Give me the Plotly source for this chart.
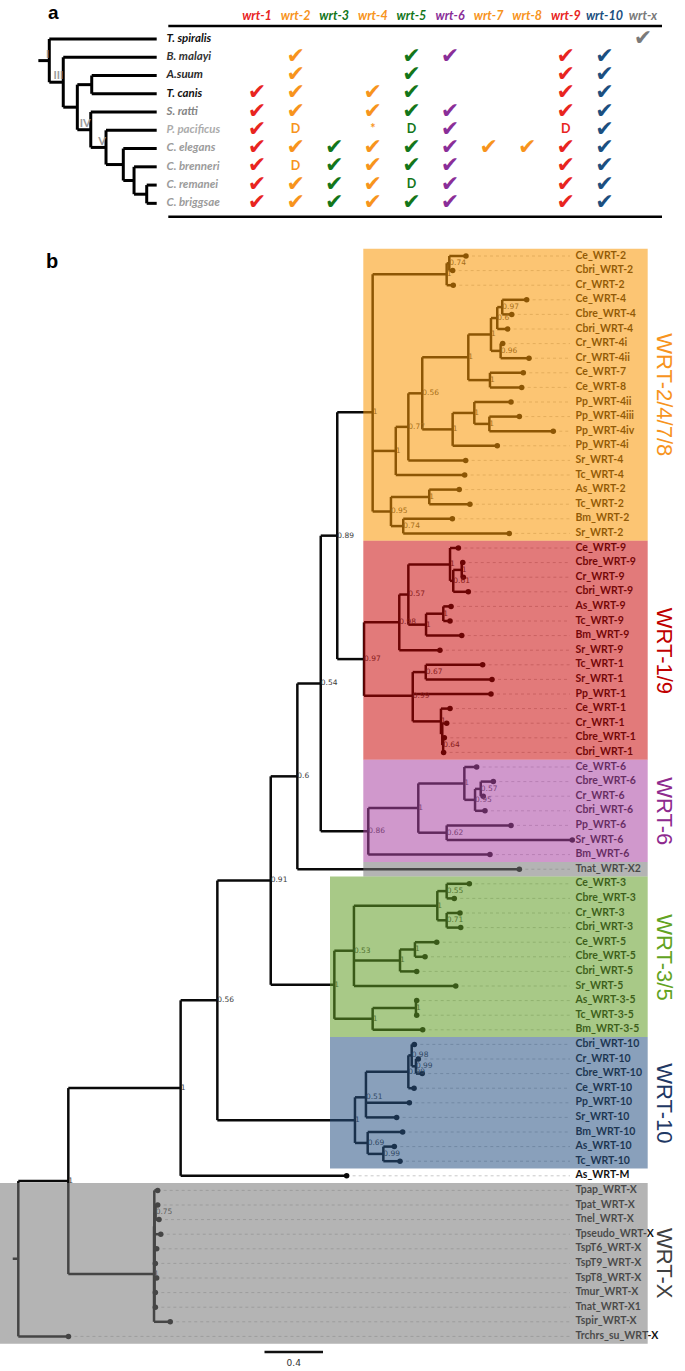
import plotly.graph_objects as go

W, H = 685, 1371

# ------------------------------------------------------------------ panel a data
SPECIES_TREE = ("(T. spiralis:1,(B. malayi:1,((A.suum:1,T. canis:1):0.395,(S. ratti:1,(P. pacificus:1,"
                "(C. elegans:1,(C. brenneri:1,(C. remanei:1,C. briggsae:1):0.907):0.789):0.689)V:0.528)IV:0.386)"
                ":0.261)III:0.130)I:0")
SPECIES_COLORS = ["#111111", "#333333", "#2a2a2a", "#111111", "#858585",
                  "#acacac", "#9b9b9b", "#9b9b9b", "#9b9b9b", "#9b9b9b"]
GENES = ["wrt-1", "wrt-2", "wrt-3", "wrt-4", "wrt-5", "wrt-6", "wrt-7", "wrt-8", "wrt-9", "wrt-10", "wrt-x"]
GENE_COLORS = ["#e8251f", "#f7941d", "#13761a", "#f7941d", "#13761a", "#8a2e98",
               "#f7941d", "#f7941d", "#e8251f", "#1b4f80", "#7a7a7a"]
# per gene, per species (T. spiralis ... C. briggsae): "v" present, "D", "*", "" absent
WRT_1 = ["", "", "", "v", "v", "v", "v", "v", "v", "v"]
WRT_2 = ["", "v", "v", "v", "v", "D", "v", "D", "v", "v"]
WRT_3 = ["", "", "", "", "", "", "v", "v", "v", "v"]
WRT_4 = ["", "", "", "v", "v", "*", "v", "v", "v", "v"]
WRT_5 = ["", "v", "v", "v", "v", "D", "v", "v", "D", "v"]
WRT_6 = ["", "v", "", "", "v", "v", "v", "v", "v", "v"]
WRT_7 = ["", "", "", "", "", "", "v", "", "", ""]
WRT_8 = ["", "", "", "", "", "", "v", "", "", ""]
WRT_9 = ["", "v", "v", "v", "v", "D", "v", "v", "v", "v"]
WRT_10 = ["", "v", "v", "v", "v", "v", "v", "v", "v", "v"]
WRT_X = ["v", "", "", "", "", "", "", "", "", ""]
PRESENCE = [WRT_1, WRT_2, WRT_3, WRT_4, WRT_5, WRT_6, WRT_7, WRT_8, WRT_9, WRT_10, WRT_X]

# ------------------------------------------------------------------ panel b data
# Newick; number after ':' = distance from the root (substitutions/site); node labels = support
CLADE_WRT_2478 = (
    "(((Ce_WRT-2:3.061,Cbri_WRT-2:2.970)0.74:2.947,Cr_WRT-2:2.974)1:2.929,"
    "(((((((Ce_WRT-4:3.476,Cbre_WRT-4:3.374)0.97:3.309,Cbri_WRT-4:3.346)0.6:3.275,"
    "(Cr_WRT-4i:3.312,Cr_WRT-4ii:3.492)0.96:3.298)1:3.232,"
    "(Ce_WRT-7:3.453,Ce_WRT-8:3.442)1:3.225)1:3.077,"
    "((Pp_WRT-4ii:3.369,(Pp_WRT-4iii:3.426,Pp_WRT-4iv:3.658)1:3.221)1:3.118,Pp_WRT-4i:3.275)1:2.970)0.56:2.762,"
    "Sr_WRT-4:3.059)0.77:2.667,Tc_WRT-4:3.052)1:2.581,"
    "((As_WRT-2:3.015,Tc_WRT-2:3.088)1:2.810,(Bm_WRT-2:2.968,Sr_WRT-2:3.357)0.74:2.632)0.95:2.548)1:2.423")
CLADE_WRT_19 = (
    "((((Ce_WRT-9:3.009,((Cbre_WRT-9:3.039,Cr_WRT-9:3.043)1:3.032,Cbri_WRT-9:3.077)0.61:2.974)1:2.952,"
    "((As_WRT-9:2.959,Tc_WRT-9:2.952)1:2.906,Bm_WRT-9:3.032)1:2.788)0.57:2.667,Sr_WRT-9:2.883)0.98:2.605,"
    "((Tc_WRT-1:3.175,Sr_WRT-1:3.239)0.67:2.786,Pp_WRT-1:3.232,"
    "(Ce_WRT-1:2.952,(Cr_WRT-1:2.929,(Cbre_WRT-1:2.913,Cbri_WRT-1:2.908)0.64:2.905):2.899)1:2.890)0.99:2.697)0.97:2.364")
CLADE_WRT_6 = (
    "(((Ce_WRT-6:3.134,((Cbre_WRT-6:3.248,Cr_WRT-6:3.179)0.57:3.162,Cbri_WRT-6:3.191)0.95:3.123)1:3.050,"
    "(Pp_WRT-6:3.369,Sr_WRT-6:3.788)0.62:2.929)1:2.735,Bm_WRT-6:3.225)0.86:2.393")
CLADE_WRT_35 = (
    "((((Ce_WRT-3:3.084,Cbre_WRT-3:2.981)0.55:2.929,(Cr_WRT-3:3.020,Cbri_WRT-3:3.025)0.71:2.929)1:2.865,"
    "((Ce_WRT-5:2.861,Cbre_WRT-5:2.781)1:2.712,Cbri_WRT-5:2.724)1:2.610,Sr_WRT-5:2.991)0.53:2.295,"
    "((As_WRT-3-5:2.724,Tc_WRT-3-5:2.724)1:2.719,Bm_WRT-3-5:2.765)1:2.423)1:2.161")
CLADE_WRT_10 = (
    "((((Cbri_WRT-10:2.708,(Cr_WRT-10:2.735,Cbre_WRT-10:2.762)0.99:2.719)0.98:2.690,Ce_WRT-10:2.706)0.99:2.667,"
    "Pp_WRT-10:2.674,Sr_WRT-10:2.587)0.51:2.377,"
    "(Bm_WRT-10:2.628,(As_WRT-10:2.571,Tc_WRT-10:2.610)0.99:2.496)0.69:2.389)1:2.302")
CLADE_WRT_X = (
    "((Tpap_WRT-X:0.953,((Tpat_WRT-X:0.953,Tnel_WRT-X:0.962)0.75:0.939,Tpseudo_WRT-X:0.974,TspT6_WRT-X:0.946,"
    "TspT9_WRT-X:0.937,TspT8_WRT-X:0.946,Tmur_WRT-X:0.937,Tnat_WRT-X1:0.937):0.932):0.930,Tspir_WRT-X:1.039)1:0.928")
BACKBONE = ("((((((((@A,@B)0.89:2.181,@C)0.54:2.068,Tnat_WRT-X2:3.426)0.6:1.908,@D)0.91:1.726,@E)0.56:1.361,"
            "As_WRT-M:2.245)1:1.110,@F)1:0.342,Trchrs_su_WRT-X:0.343):0")
GENE_TREE = (BACKBONE.replace("@A", CLADE_WRT_2478).replace("@B", CLADE_WRT_19)
             .replace("@C", CLADE_WRT_6).replace("@D", CLADE_WRT_35)
             .replace("@E", CLADE_WRT_10).replace("@F", CLADE_WRT_X))

# highlighted groups: name, first leaf, last leaf, label colour, overlay colour, left edge (px)
GROUPS = [
    ("WRT-2/4/7/8", "Ce_WRT-2", "Sr_WRT-2", "#f7941d", "rgba(250,150,0,0.55)", 363.3),
    ("WRT-1/9", "Ce_WRT-9", "Cbri_WRT-1", "#c00000", "rgba(200,0,0,0.52)", 363.3),
    ("WRT-6", "Ce_WRT-6", "Bm_WRT-6", "#8e2a8e", "rgba(170,68,162,0.55)", 363.3),
    ("", "Tnat_WRT-X2", "Tnat_WRT-X2", "#404040", "rgba(119,119,119,0.55)", 363.3),
    ("WRT-3/5", "Ce_WRT-3", "Bm_WRT-3-5", "#62a322", "rgba(97,157,37,0.55)", 330.0),
    ("WRT-10", "Cbri_WRT-10", "Tc_WRT-10", "#1f3864", "rgba(40,82,131,0.55)", 330.0),
    ("WRT-X", "Tpap_WRT-X", "Trchrs_su_WRT-X", "#404040", "rgba(119,119,119,0.55)", 0.0),
]
SCALE_BAR = 0.4


# ------------------------------------------------------------------ helpers
def parse_newick(s):
    pos = 0

    def node():
        nonlocal pos
        n = {"children": [], "depth": 0.0}
        if s[pos] == "(":
            pos += 1
            while True:
                n["children"].append(node())
                ch = s[pos]
                pos += 1
                if ch == ")":
                    break
        start = pos
        while pos < len(s) and s[pos] not in ":,()":
            pos += 1
        n["label"] = s[start:pos]
        if pos < len(s) and s[pos] == ":":
            pos += 1
            start = pos
            while pos < len(s) and s[pos] not in ",()":
                pos += 1
            n["depth"] = float(s[start:pos])
        return n

    return node()


def place(root):
    leaves, internals = [], []

    def walk(n):
        if not n["children"]:
            n["y"] = float(len(leaves))
            leaves.append(n)
        else:
            for c in n["children"]:
                walk(c)
            n["y"] = sum(c["y"] for c in n["children"]) / len(n["children"])
            internals.append(n)

    walk(root)
    return leaves, internals


def branch_xy(internals):
    xs, ys = [], []
    for n in internals:
        cy = [c["y"] for c in n["children"]]
        xs += [n["depth"], n["depth"], None]
        ys += [min(cy), max(cy), None]
        for c in n["children"]:
            xs += [n["depth"], c["depth"], None]
            ys += [c["y"], c["y"], None]
    return xs, ys


# ------------------------------------------------------------------ geometry (pixel mapping of axes)
B_ROOT_PX, B_UNIT_PX = 18.3, 146.25          # panel b x: distance -> px
B_ROW0_PX, B_ROW_PX = 256.0, 14.6            # panel b y: leaf index -> px
A_COL0_PX, A_COL_PX = 257.0, 38.6            # panel a table columns
A_ROW0_PX, A_ROW_PX = 39.0, 18.26            # panel a rows
A_T0_PX, A_T_PX = 49.3, 107.4                # panel a cladogram depth

bx = lambda px: (px - B_ROOT_PX) / B_UNIT_PX
by = lambda px: (px - B_ROW0_PX) / B_ROW_PX
ax_ = lambda px: (px - A_COL0_PX) / A_COL_PX
ay = lambda px: (px - A_ROW0_PX) / A_ROW_PX
tx = lambda px: (px - A_T0_PX) / A_T_PX

fig = go.Figure()

# ================================================================== panel b
groot = parse_newick(GENE_TREE)
gleaves, ginternals = place(groot)
row_of = {l["label"]: l["y"] for l in gleaves}

guide_end = bx(570)
gx, gy = [], []
for l in gleaves:
    if l["depth"] < guide_end:
        gx += [l["depth"], guide_end, None]
        gy += [l["y"], l["y"], None]
fig.add_trace(go.Scatter(x=gx, y=gy, mode="lines", line=dict(color="#c4c4c4", width=0.9, dash="dot"),
                         hoverinfo="skip", xaxis="x", yaxis="y"))

bxs, bys = branch_xy(ginternals)
bxs = [-0.038, 0.0, None] + bxs
bys = [groot["y"], groot["y"], None] + bys
fig.add_trace(go.Scatter(x=bxs, y=bys, mode="lines", line=dict(color="#0a0a0a", width=2.5),
                         hoverinfo="skip", xaxis="x", yaxis="y"))
fig.add_trace(go.Scatter(x=[l["depth"] for l in gleaves], y=[l["y"] for l in gleaves], mode="markers",
                         marker=dict(color="#0a0a0a", size=5.5), hoverinfo="skip", xaxis="x", yaxis="y"))
fig.add_trace(go.Scatter(x=[bx(575.5)] * len(gleaves), y=[l["y"] for l in gleaves],
                         text=[l["label"] for l in gleaves], mode="text", textposition="middle right",
                         textfont=dict(family="Liberation Sans Narrow, Lato, sans-serif", size=10.5,
                                       color="#111111", weight="bold"),
                         hoverinfo="skip", xaxis="x", yaxis="y"))
sup = [n for n in ginternals if n["label"]]
fig.add_trace(go.Scatter(x=[n["depth"] for n in sup], y=[n["y"] for n in sup], text=[n["label"] for n in sup],
                         mode="text", textposition="middle right",
                         textfont=dict(family="DejaVu Sans", size=7.5, color="#3c3c3c"),
                         hoverinfo="skip", xaxis="x", yaxis="y"))
# scale bar
sb0 = bx(264.5)
fig.add_trace(go.Scatter(x=[sb0, sb0 + SCALE_BAR], y=[by(1352), by(1352)], mode="lines",
                         line=dict(color="#111111", width=2.5), hoverinfo="skip", xaxis="x", yaxis="y"))
fig.add_trace(go.Scatter(x=[sb0 + SCALE_BAR / 2], y=[by(1364)], text=[str(SCALE_BAR)], mode="text",
                         textfont=dict(family="DejaVu Sans", size=9, color="#333333"),
                         hoverinfo="skip", xaxis="x", yaxis="y"))

shapes, annotations = [], []
for name, first, last, lcol, fill, x0 in GROUPS:
    r0, r1 = row_of[first] - 0.5, row_of[last] + 0.5
    shapes.append(dict(type="rect", xref="paper", yref="y", x0=x0 / W, x1=647.7 / W, y0=r0, y1=r1,
                       fillcolor=fill, line=dict(width=0), layer="above"))
    if name:
        annotations.append(dict(text=name, xref="paper", yref="y", x=664.5 / W, y=(r0 + r1) / 2,
                                showarrow=False, textangle=90, xanchor="center", yanchor="middle",
                                font=dict(family="Liberation Sans, Arial, sans-serif", size=22, color=lcol)))

# ================================================================== panel a
sroot = parse_newick(SPECIES_TREE)
sleaves, sinternals = place(sroot)
sxs, sys_ = branch_xy(sinternals)
sxs = [-0.102, 0.0, None] + sxs
sys_ = [sroot["y"], sroot["y"], None] + sys_
fig.add_trace(go.Scatter(x=sxs, y=sys_, mode="lines", line=dict(color="#000000", width=3),
                         hoverinfo="skip", xaxis="x3", yaxis="y3"))
fig.add_trace(go.Scatter(x=[tx(166.5)] * len(sleaves), y=[l["y"] for l in sleaves],
                         text=[l["label"] for l in sleaves], mode="text", textposition="middle right",
                         textfont=dict(family="Lato, sans-serif", size=11.5, color=SPECIES_COLORS,
                                       weight="bold", style="italic"),
                         hoverinfo="skip", xaxis="x3", yaxis="y3"))
roman = [n for n in sinternals if n["label"]]
fig.add_trace(go.Scatter(x=[n["depth"] for n in roman], y=[n["y"] for n in roman],
                         text=[n["label"] for n in roman], mode="text", textposition="top left",
                         textfont=dict(family="Lato, sans-serif", size=11, color="#9a9a9a", weight="bold"),
                         hoverinfo="skip", xaxis="x3", yaxis="y3"))

# header
fig.add_trace(go.Scatter(x=list(range(len(GENES))), y=[ay(17.3)] * len(GENES), text=GENES, mode="text",
                         textfont=dict(family="Lato, sans-serif", size=12.5, color=GENE_COLORS,
                                       weight="bold", style="italic"),
                         hoverinfo="skip", xaxis="x2", yaxis="y2"))
cx, cy, cc, lx, ly, lt, lc = [], [], [], [], [], [], []
for gi, col in enumerate(PRESENCE):
    for si, v in enumerate(col):
        if v == "v":
            cx.append(gi); cy.append(si); cc.append(GENE_COLORS[gi])
        elif v:
            lx.append(gi); ly.append(si); lt.append(v); lc.append(GENE_COLORS[gi])
fig.add_trace(go.Scatter(x=cx, y=cy, text=["\u2714"] * len(cx), mode="text",
                         textfont=dict(family="DejaVu Sans", size=22, color=cc),
                         hoverinfo="skip", xaxis="x2", yaxis="y2"))
fig.add_trace(go.Scatter(x=lx, y=ly, text=lt, mode="text",
                         textfont=dict(family="Lato, sans-serif", size=12.5, color=lc, weight="bold"),
                         hoverinfo="skip", xaxis="x2", yaxis="y2"))
for ypx in (26.0, 216.7):
    shapes.append(dict(type="line", xref="paper", yref="y2", x0=168.3 / W, x1=662 / W, y0=ay(ypx), y1=ay(ypx),
                       line=dict(color="#000000", width=2.5)))

annotations.append(dict(text="<b>a</b>", xref="paper", yref="paper", x=53.5 / W, y=1.0, showarrow=False,
                        xanchor="center", yanchor="top",
                        font=dict(family="Liberation Sans, Arial, sans-serif", size=19, color="#000000")))
annotations.append(dict(text="<b>b</b>", xref="paper", yref="paper", x=52 / W, y=1 - 261 / H, showarrow=False,
                        xanchor="center", yanchor="middle",
                        font=dict(family="Liberation Sans, Arial, sans-serif", size=20, color="#000000")))

noaxis = dict(visible=False, showgrid=False, zeroline=False, domain=[0, 1], fixedrange=True)
fig.update_layout(
    width=W, height=H, margin=dict(l=0, r=0, t=0, b=0), showlegend=False,
    paper_bgcolor="white", plot_bgcolor="rgba(0,0,0,0)",
    xaxis=dict(range=[bx(0), bx(W)], anchor="y", **noaxis),
    yaxis=dict(range=[by(H), by(0)], anchor="x", **noaxis),
    xaxis2=dict(range=[ax_(0), ax_(W)], anchor="y2", **noaxis),
    yaxis2=dict(range=[ay(H), ay(0)], anchor="x2", **noaxis),
    xaxis3=dict(range=[tx(0), tx(W)], anchor="y3", **noaxis),
    yaxis3=dict(range=[ay(H), ay(0)], anchor="x3", **noaxis),
    shapes=shapes, annotations=annotations,
)
fig.write_html("out.html", config={"displayModeBar": False},
               post_script="document.body.style.margin='0';")
